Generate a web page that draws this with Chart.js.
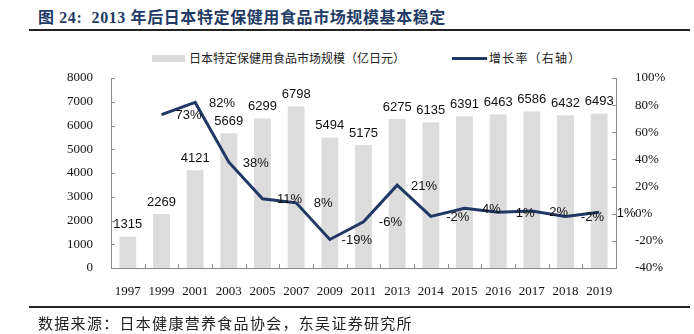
<!DOCTYPE html>
<html>
<head>
<meta charset="utf-8">
<script src="https://cdn.jsdelivr.net/npm/chart.js@4"></script>
<style>
  body { margin: 0; width: 694px; height: 334px; position: relative; background: #fff; overflow: hidden;
         font-family: "Noto Sans CJK SC", sans-serif; }
  #chart { position: absolute; left: 0; top: 0; }
  .title { position: absolute; left: 38px; top: 4px; font: bold 16px "Liberation Serif", "Noto Sans CJK SC", serif;
           letter-spacing: 0.6px; color: #1f3b66; white-space: nowrap; }
  .rule { position: absolute; left: 29px; width: 661px; height: 2px; background: #222; }
  .legend-box { position: absolute; left: 152px; top: 55px; width: 33px; height: 7px; background: #dcdcdc; }
  .legend-line { position: absolute; left: 452px; top: 57px; width: 35px; height: 3px; background: #1f3864; }
  .legend-text { position: absolute; top: 50px; font-size: 12px; line-height: 16px; color: #222; white-space: nowrap; }
  .source { position: absolute; left: 38px; top: 313px; font-size: 15px; line-height: 20px; letter-spacing: 1.3px;
            color: #222; white-space: nowrap; }
</style>
</head>
<body>
<div class="title">图 24:&nbsp; 2013 年后日本特定保健用食品市场规模基本稳定</div>
<div class="rule" style="top:29px"></div>
<div class="legend-box"></div>
<div class="legend-text" style="left:189px">日本特定保健用食品市场规模（亿日元）</div>
<div class="legend-line"></div>
<div class="legend-text" style="left:489px;letter-spacing:1.2px">增长率（右轴）</div>
<canvas id="chart" width="694" height="334"></canvas>
<div class="rule" style="top:306px"></div>
<div class="source">数据来源：日本健康营养食品协会，东吴证券研究所</div>

<script>
// 年份、市场规模（亿日元）、增长率（%）
const years = ['1997', '1999', '2001', '2003', '2005', '2007', '2009', '2011', '2013', '2014', '2015', '2016', '2017', '2018', '2019'];
const marketSize = [1315, 2269, 4121, 5669, 6299, 6798, 5494, 5175, 6275, 6135, 6391, 6463, 6586, 6432, 6493];
const growthRate = [null, 73, 82, 38, 11, 8, -19, -6, 21, -2, 4, 1, 2, -2, 1];

const axisColor = '#8c8c8c';
const serifFont = { family: '"Liberation Serif", "Times New Roman", serif', size: 13 };

// 数值标签 + 朝内的刻度线
const labelPlugin = {
    id: 'valueLabels',
    afterDatasetsDraw(chart) {
        const ctx = chart.ctx;
        const area = chart.chartArea;
        const catW = (area.right - area.left) / years.length;

        // 刻度线
        ctx.save();
        ctx.strokeStyle = axisColor;
        ctx.lineWidth = 1;
        ctx.beginPath();
        const y = chart.scales.y, y1 = chart.scales.y1;
        y.ticks.forEach((t, i) => {
            const py = Math.round(y.getPixelForTick(i)) + 0.5;
            ctx.moveTo(area.left, py); ctx.lineTo(area.left + 4, py);
        });
        y1.ticks.forEach((t, i) => {
            const py = Math.round(y1.getPixelForTick(i)) + 0.5;
            ctx.moveTo(area.right, py); ctx.lineTo(area.right - 4, py);
        });
        for (let i = 1; i < years.length; i++) {
            const px = Math.round(area.left + catW * i) + 0.5;
            ctx.moveTo(px, area.bottom); ctx.lineTo(px, area.bottom - 4);
        }
        ctx.stroke();

        // 柱顶数值
        ctx.fillStyle = '#111';
        ctx.font = '13px "Liberation Sans", Arial, sans-serif';
        ctx.textAlign = 'center';
        ctx.textBaseline = 'middle';
        chart.getDatasetMeta(0).data.forEach((bar, i) => {
            ctx.fillText(marketSize[i], bar.x, bar.y - 12);
        });

        // 增长率标签
        chart.getDatasetMeta(1).data.forEach((pt, i) => {
            if (growthRate[i] === null) return;
            ctx.fillText(growthRate[i] + '%', pt.x + catW * 0.8, pt.y + 1);
        });
        ctx.restore();
    }
};

new Chart(document.getElementById('chart'), {
    data: {
        labels: years,
        datasets: [
            {
                type: 'bar',
                label: '日本特定保健用食品市场规模（亿日元）',
                data: marketSize,
                backgroundColor: '#dcdcdc',
                categoryPercentage: 1,
                barPercentage: 0.5,
                yAxisID: 'y',
                order: 1
            },
            {
                type: 'line',
                label: '增长率（右轴）',
                data: growthRate,
                borderColor: '#1f3864',
                borderWidth: 3,
                pointRadius: 0,
                tension: 0,
                fill: false,
                yAxisID: 'y1',
                order: 0
            }
        ]
    },
    options: {
        responsive: false,
        animation: false,
        devicePixelRatio: 1,
        layout: { padding: { top: 78, left: 0, right: 0, bottom: 0 } },
        plugins: { legend: { display: false }, tooltip: { enabled: false } },
        scales: {
            x: {
                grid: { display: false },
                border: { display: true, color: axisColor },
                ticks: { font: serifFont, color: '#111', padding: 8, maxRotation: 0, autoSkip: false },
                afterFit: s => { s.height = 66; }
            },
            y: {
                position: 'left',
                min: 0, max: 8000,
                grid: { display: false },
                border: { display: true, color: axisColor },
                ticks: { stepSize: 1000, font: serifFont, color: '#111', padding: 10, callback: v => String(v) },
                afterFit: s => { s.width = 111; }
            },
            y1: {
                position: 'right',
                min: -40, max: 100,
                grid: { display: false },
                border: { display: true, color: axisColor },
                ticks: { stepSize: 20, font: serifFont, color: '#111', padding: 11, callback: v => v + '%' },
                afterFit: s => { s.width = 78; }
            }
        }
    },
    plugins: [labelPlugin]
});
</script>
</body>
</html>
